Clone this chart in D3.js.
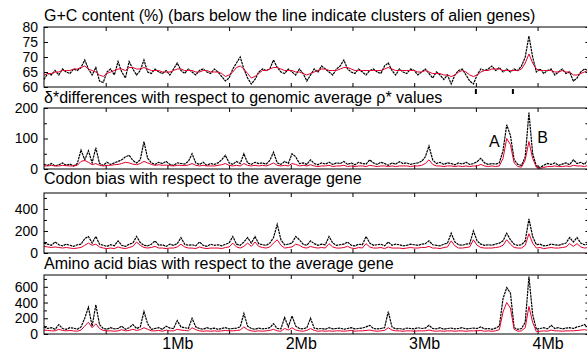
<!DOCTYPE html>
<html>
<head>
<meta charset="utf-8">
<script src="https://cdn.jsdelivr.net/npm/d3@7"></script>
<style>
  body { margin: 0; background: #fff; }
  text { font-family: "Liberation Sans", Arial, sans-serif; }
</style>
</head>
<body>
<div id="chart"></div>
<script>
// windows are 30 kb apart along the chromosome
const stepMb = 0.03;

// G+C content (%)
const gcBlack = [
  62.5,64.5,64,65.5,64,66,65,64.5,66,65.5,
  66.5,69,66,64,66.5,62,61.5,65,66,64,
  68.5,65,63,68.5,66,64,65.5,69,65,64.5,
  66,65,64.5,65.5,64,66,68,65.5,64.5,66,
  65,64,65.5,66,65,64.5,66,65,63.5,62,
  63,66,68,70,66,63,61,62.5,65,66,
  65.5,66,69,66.5,65,64.5,66,65,64,66,
  64.5,62,64,66,65,67,66,65,64,66,
  67,69,66,65,64.5,66,65,64,65.5,66,
  65,64.5,67,68,65.5,64,66,65,64.5,66,
  65.5,64,65,66,64.5,63,65,64,62.5,64,
  61,64,65.5,66,64,62,61,64,66,65.5,
  66,67,65.5,66.5,65,66,65,66,65.5,67,
  70,77,70,65,66,64.5,65.5,66,64,65,
  66,64.5,65,62,63,65,66,65.5
];
const gcRed = [
  64,64.5,64.5,65,65,65.5,65.5,65.5,66,66,
  66.5,67,66,65.5,65,64,63.5,64.5,65,65.5,
  66,66,65.5,66.5,66.5,66,66,66.5,66,65.5,
  65.5,65.5,65,65,65,65.5,66,66,65.5,65.5,
  65.5,65,65,65.5,65.5,65,65,65,64.5,63.5,
  64,65,66.5,67,66,64.5,63,63.5,64.5,65.5,
  65.5,66,66.5,66.5,66,65.5,65.5,65.5,65,65,
  64.5,64,64.5,65,65.5,66,66,65.5,65.5,65.5,
  66,66.5,66.5,66,65.5,65.5,65.5,65.5,65.5,65.5,
  65.5,65.5,66,66.5,66,65.5,65.5,65.5,65.5,65.5,
  65.5,65,65,65.5,65,64.5,64.5,64.5,64,64,
  63.5,64,65,65.5,65,64,63.5,64,65,65.5,
  65.5,66,66,66,65.5,65.5,65.5,65.5,65.5,66,
  68,71,68,66,65.5,65.5,65.5,65.5,65,65,
  65.5,65,65,64,64,64.5,65,65.5
];
// clusters of alien genes (Mb), drawn as bars below the G+C line
const alienClusters = [3.50, 3.80];

// delta* differences
const deltaBlack = [
  15,12,18,10,14,20,12,16,10,18,
  62,30,60,20,70,18,12,22,15,20,
  25,30,40,45,28,20,30,90,35,20,
  15,22,18,25,15,12,20,18,16,25,
  50,20,15,22,12,18,15,20,30,45,
  20,15,25,18,50,20,15,22,18,20,
  16,28,55,20,15,25,18,50,40,18,
  20,15,30,18,14,20,16,22,15,20,
  18,25,15,20,14,22,18,16,30,20,
  15,22,18,12,20,16,24,18,20,15,
  18,20,25,40,75,30,18,22,15,20,
  18,14,20,16,22,15,18,24,35,20,
  15,18,16,20,60,145,110,30,15,12,
  40,185,50,10,5,12,18,15,20,12,
  16,20,14,30,18,22,15,30
];
const deltaRed = [
  10,10,12,10,10,12,11,10,10,12,
  25,28,22,14,18,12,10,12,12,14,
  15,18,22,20,16,14,18,25,20,15,
  12,14,12,13,11,10,12,12,11,13,
  18,12,10,12,10,10,10,12,14,18,
  12,10,12,10,18,12,10,12,10,12,
  10,14,20,12,10,12,10,18,15,10,
  12,10,14,10,8,10,10,12,8,10,
  10,12,8,10,8,10,10,8,12,10,
  8,10,10,8,10,8,10,10,10,8,
  10,10,12,18,30,15,10,10,8,10,
  10,8,10,8,10,8,10,10,15,10,
  8,10,8,10,35,100,80,20,8,6,
  30,90,35,6,2,5,8,8,10,8,
  8,10,8,12,10,10,8,12
];

// codon bias
const codonBlack = [
  90,80,70,100,75,65,80,70,60,75,
  80,130,150,90,150,80,70,60,75,65,
  110,70,60,80,90,150,95,70,65,80,
  110,70,75,60,80,70,85,140,80,70,
  75,65,100,70,60,80,70,75,65,80,
  90,150,80,70,100,140,90,150,85,75,
  70,90,140,260,120,75,80,90,150,120,
  80,70,110,85,70,80,75,150,90,70,
  75,80,100,70,65,80,75,150,90,70,
  75,80,65,100,70,80,75,65,70,80,
  75,70,80,85,110,75,70,65,80,90,
  180,100,75,70,80,85,200,110,80,70,
  75,70,80,90,110,180,120,80,70,75,
  110,310,150,75,80,65,70,80,75,70,
  80,90,140,100,140,90,75,80
];
const codonRed = [
  60,55,50,55,50,45,50,45,40,45,
  50,70,90,70,80,55,45,40,45,40,
  55,45,40,50,60,100,70,50,45,50,
  60,45,45,40,45,45,55,80,55,45,
  45,40,55,45,40,45,45,45,40,50,
  55,90,55,45,60,90,60,100,60,50,
  45,55,90,120,70,45,50,55,80,70,
  50,45,60,50,45,50,45,85,55,45,
  45,50,60,45,40,50,45,85,55,45,
  45,50,40,55,45,45,45,40,45,50,
  45,45,50,50,60,45,45,40,50,55,
  110,65,45,45,50,55,120,70,50,45,
  45,45,50,55,70,120,80,50,45,45,
  70,175,90,45,50,40,45,50,45,45,
  50,55,85,60,85,55,45,50
];

// amino acid bias
const aminoBlack = [
  90,70,80,60,120,70,60,80,75,60,
  90,200,340,100,370,120,70,60,80,65,
  70,100,60,80,120,70,90,285,130,60,
  70,80,60,100,75,70,170,90,80,70,
  200,90,70,60,80,65,75,60,70,80,
  65,70,75,90,260,100,70,60,75,65,
  70,80,130,70,65,210,90,230,100,70,
  65,80,200,75,65,70,60,80,65,70,
  75,60,70,80,65,70,75,90,110,70,
  65,70,80,285,90,65,70,60,75,70,
  65,80,70,75,110,70,65,80,60,70,
  75,65,70,80,65,70,75,70,90,65,
  70,60,75,100,450,590,520,80,60,70,
  150,730,250,60,70,80,65,110,70,80,
  65,75,80,70,90,100,120,80
];
const aminoRed = [
  50,45,40,40,60,45,40,45,40,35,
  50,100,150,80,130,70,45,40,40,35,
  40,55,40,45,60,45,55,80,60,40,
  40,45,35,50,40,40,60,50,45,40,
  80,55,40,35,40,35,40,35,40,45,
  40,40,45,50,90,55,40,35,40,35,
  40,45,60,40,35,70,50,80,50,40,
  35,45,70,45,35,40,35,40,35,40,
  40,35,40,45,35,40,40,45,50,40,
  35,40,45,80,50,40,40,35,40,40,
  35,40,40,40,50,40,35,40,35,40,
  40,35,40,40,35,40,40,40,45,35,
  40,35,40,55,280,400,330,60,35,40,
  80,350,150,30,35,40,35,50,40,40,
  35,40,40,40,45,50,55,45
];

const titles = [
  "G+C content (%) (bars below the line indicate clusters of alien genes)",
  "\u03b4*differences with respect to genomic average \u03c1* values",
  "Codon bias with respect to the average gene",
  "Amino acid bias with respect to the average gene"
];
const xTickValues = [0.5, 1, 1.5, 2, 2.5, 3, 3.5, 4, 4.5];
const xLabelValues = [1, 2, 3, 4];

const width = 587, height = 351;
const left = 44, right = 589.4;
const fontSize = 16;
const tickFontSize = 14;

const svg = d3.select("#chart")
  .append("svg")
    .attr("width", width)
    .attr("height", height);

const x = d3.scaleLinear()
  .domain([0, 4.42])
  .range([left, right]);

// panel layout
const panels = [
  {title: titles[0], black: gcBlack, red: gcRed, domain: [60, 80], top: 27, bottom: 87,
   major: [60, 65, 70, 75, 80], minor: [], titleY: 21},
  {title: titles[1], black: deltaBlack, red: deltaRed, domain: [0, 200], top: 108, bottom: 169,
   major: [0, 100, 200], minor: [50, 150], titleY: 103},
  {title: titles[2], black: codonBlack, red: codonRed, domain: [0, 545], top: 193, bottom: 253,
   major: [0, 200, 400], minor: [100, 300, 500], titleY: 184},
  {title: titles[3], black: aminoBlack, red: aminoRed, domain: [0, 750], top: 275, bottom: 334,
   major: [0, 200, 400, 600], minor: [100, 300, 500, 700], titleY: 269}
];

panels.forEach(function(p, k) {
  const y = d3.scaleLinear()
    .domain(p.domain)
    .range([p.bottom, p.top]);

  const g = svg.append("g");

  // title
  g.append("text")
      .attr("x", left)
      .attr("y", p.titleY)
      .attr("font-size", fontSize)
      .text(p.title);

  // left axis with labels
  g.append("g")
      .attr("transform", "translate(" + left + ",0)")
      .call(d3.axisLeft(y).tickValues(p.major).tickSize(-4).tickPadding(6))
      .call(function(s) { s.select(".domain").remove(); })
      .call(function(s) { s.selectAll("text").attr("font-size", tickFontSize).attr("fill", "#000")
                           .attr("font-family", "Liberation Sans, Arial, sans-serif"); });
  g.append("g")
      .attr("transform", "translate(" + left + ",0)")
      .call(d3.axisLeft(y).tickValues(p.minor).tickSize(-3).tickFormat(""))
      .call(function(s) { s.select(".domain").remove(); });

  // right axis
  g.append("g")
      .attr("transform", "translate(" + right + ",0)")
      .call(d3.axisRight(y).tickValues(p.major.concat(p.minor)).tickSize(-4).tickFormat(""))
      .call(function(s) { s.select(".domain").remove(); });

  // top and bottom ticks
  g.append("g")
      .attr("transform", "translate(0," + p.top + ")")
      .call(d3.axisBottom(x).tickValues(xTickValues).tickSize(4).tickFormat(""))
      .call(function(s) { s.select(".domain").remove(); });
  g.append("g")
      .attr("transform", "translate(0," + p.bottom + ")")
      .call(d3.axisTop(x).tickValues(xTickValues).tickSize(4).tickFormat(""))
      .call(function(s) { s.select(".domain").remove(); });

  const line = d3.line()
    .x(function(d, i) { return x(i * stepMb); })
    .y(function(d) { return y(d); });

  g.append("path")
      .datum(p.black)
      .attr("fill", "none")
      .attr("stroke", "#000")
      .attr("stroke-width", 1.2)
      .attr("stroke-dasharray", "2.5,0.7")
      .attr("d", line);

  g.append("path")
      .datum(p.red)
      .attr("fill", "none")
      .attr("stroke", "#e4002b")
      .attr("stroke-width", 1)
      .attr("d", line);

  // frame
  g.append("rect")
      .attr("x", left)
      .attr("y", p.top)
      .attr("width", right - left)
      .attr("height", p.bottom - p.top)
      .attr("fill", "none")
      .attr("stroke", "#000")
      .attr("stroke-width", 1);

  // alien gene bars under the G+C panel
  if (k === 0) {
    g.selectAll(".alien")
      .data(alienClusters)
      .enter()
      .append("rect")
        .attr("class", "alien")
        .attr("x", function(d) { return x(d) - 1; })
        .attr("y", p.bottom + 2)
        .attr("width", 2)
        .attr("height", 5)
        .attr("fill", "#000");
  }

  // A and B peak labels on the delta* panel
  if (k === 1) {
    g.append("text")
        .attr("x", x(3.65))
        .attr("y", y(72))
        .attr("font-size", fontSize)
        .attr("text-anchor", "middle")
        .text("A");
    g.append("text")
        .attr("x", x(4.04))
        .attr("y", y(86))
        .attr("font-size", fontSize)
        .attr("text-anchor", "middle")
        .text("B");
  }

  // Mb labels under the last panel
  if (k === panels.length - 1) {
    g.append("g")
        .attr("transform", "translate(0," + p.bottom + ")")
        .call(d3.axisBottom(x).tickValues(xLabelValues).tickSize(0).tickPadding(4)
                .tickFormat(function(d) { return d + "Mb"; }))
        .call(function(s) { s.select(".domain").remove(); })
        .call(function(s) { s.selectAll("text").attr("font-size", fontSize).attr("fill", "#000")
                             .attr("dx", 10).attr("font-family", "Liberation Sans, Arial, sans-serif"); });
  }
});
</script>
</body>
</html>
